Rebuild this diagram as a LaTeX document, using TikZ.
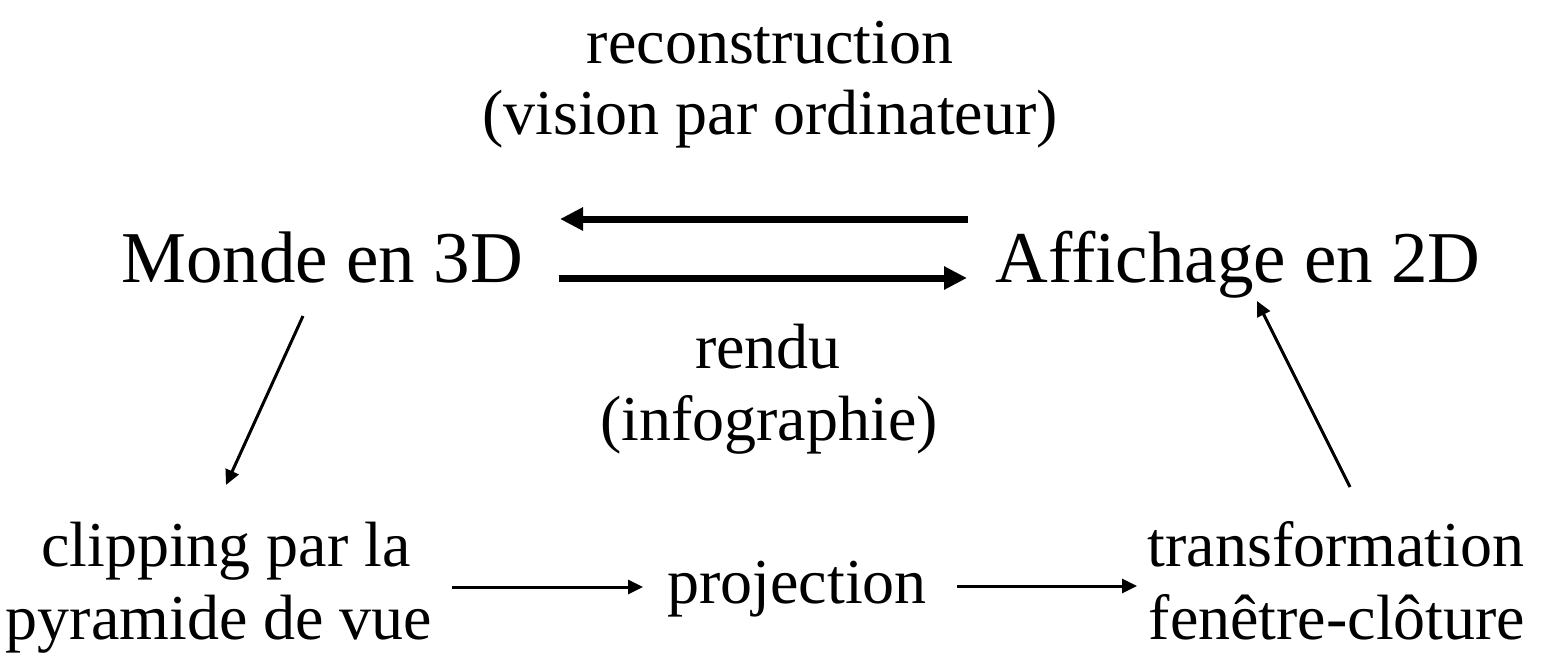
\documentclass[tikz,border=0pt]{standalone}
\usepackage{fontspec}
\setmainfont{Liberation Serif}
\usetikzlibrary{arrows.meta}
\begin{document}
\begin{tikzpicture}[x=0.5pt,y=-0.5pt,
  big/.style={font=\fontsize{36.5}{40}\selectfont, inner sep=0pt, anchor=base},
  small/.style={font=\fontsize{32}{36}\selectfont, inner sep=0pt, anchor=base},
  heavyarrow/.style={line width=3.5pt, -{Triangle[length=11.5pt,width=11pt]}},
  lightarrow/.style={line width=1.5pt, -{Triangle[length=7.5pt,width=7pt]}}]
\useasboundingbox (0,0) rectangle (1543,655);
% texts
\node[small] (rec1) at (770,63) {reconstruction};
\node[small] (rec2) at (770,134) {(vision par ordinateur)};
\node[big] (monde) at (322,282) {Monde en 3D};
\node[big] (aff) at (1238,282) {Affichage en 2D};
\node[small] (ren1) at (768,368) {rendu};
\node[small] (ren2) at (769,440) {(infographie)};
\node[small] (clip1) at (226,566) {clipping par la};
\node[small] (clip2) at (219,639) {pyramide de vue};
\node[small] (proj) at (797,603) {projection};
\node[small] (tr1) at (1336,566) {transformation};
\node[small] (tr2) at (1337,639) {fenêtre-clôture};
% arrow endpoints
\coordinate (a1s) at (968,219);
\coordinate (a1e) at (560,219);
\coordinate (a2s) at (559,278);
\coordinate (a2e) at (967,278);
\coordinate (d1s) at (303,316);
\coordinate (d1e) at (226,485);
\coordinate (d2s) at (1350,487);
\coordinate (d2e) at (1257,301);
\coordinate (h1s) at (452,587);
\coordinate (h1e) at (643,587);
\coordinate (h2s) at (957,586);
\coordinate (h2e) at (1137,586);
% connectors
\draw[heavyarrow] (a1s) -- (a1e);
\draw[heavyarrow] (a2s) -- (a2e);
\draw[lightarrow] (d1s) -- (d1e);
\draw[lightarrow] (d2s) -- (d2e);
\draw[lightarrow] (h1s) -- (h1e);
\draw[lightarrow] (h2s) -- (h2e);
\end{tikzpicture}
\end{document}
